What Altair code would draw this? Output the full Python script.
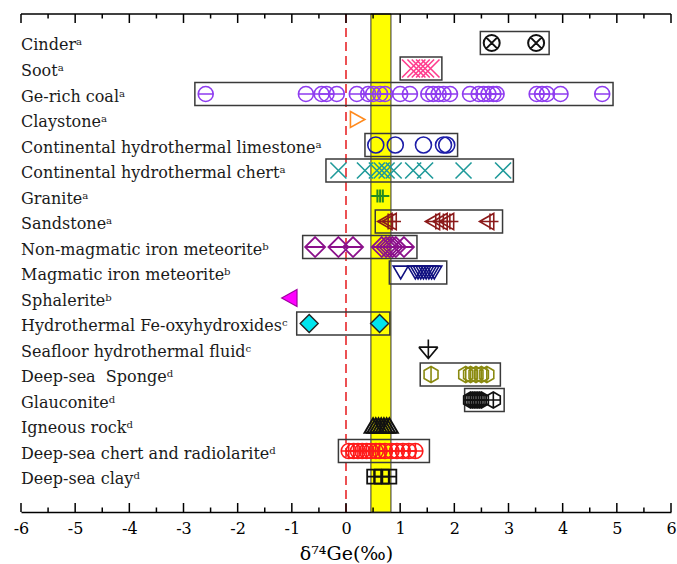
import altair as alt
import pandas as pd

# ---------------- data ----------------
labels = [
    "Cinderᵃ", "Sootᵃ", "Ge-rich coalᵃ", "Claystoneᵃ",
    "Continental hydrothermal limestoneᵃ", "Continental hydrothermal chertᵃ",
    "Graniteᵃ", "Sandstoneᵃ", "Non-magmatic iron meteoriteᵇ",
    "Magmatic iron meteoriteᵇ", "Sphaleriteᵇ", "Hydrothermal Fe-oxyhydroxidesᶜ",
    "Seafloor hydrothermal fluidᶜ", "Deep-sea\u00a0 Spongeᵈ", "Glauconiteᵈ",
    "Igneous rockᵈ", "Deep-sea chert and radiolariteᵈ", "Deep-sea clayᵈ",
]

cinder = [2.69, 3.51]
soot = [1.2, 1.3, 1.38, 1.46, 1.56]
coal = [-2.59, -0.74, -0.45, -0.36, -0.17, 0.2, 0.41, 0.50, 0.63, 0.72, 1.0, 1.18,
        1.52, 1.61, 1.71, 1.80, 1.92, 2.29, 2.45, 2.54, 2.63, 2.72, 2.78,
        3.52, 3.62, 3.71, 3.96, 4.73]
claystone = [0.2]
limestone = [0.55, 0.91, 1.43, 1.8, 1.86]
cont_chert = [-0.14, 0.35, 0.57, 0.66, 0.75, 0.88, 1.24, 1.46, 2.17, 2.9]
granite = [0.58, 0.63, 0.68]
sandstone = [0.76, 0.84, 1.64, 1.78, 1.9, 2.64]
nonmag = [-0.57, -0.14, 0.13, 0.66, 0.74, 0.8, 0.86, 0.92, 1.07]
magmatic = [1.01, 1.28, 1.33, 1.38, 1.43, 1.48, 1.53, 1.58, 1.63]
sphalerite = [-1.03]
feoxy = [-0.68, 0.62]
seafloor = [1.52]
sponge = [1.57, 2.21, 2.3, 2.4, 2.5, 2.6]
glauconite = [2.3, 2.34, 2.38, 2.42, 2.46, 2.5, 2.72]
igneous = [0.5, 0.55, 0.6, 0.65, 0.7, 0.75, 0.8]
ds_chert = [0.05, 0.14, 0.22, 0.3, 0.38, 0.46, 0.55, 0.62, 0.72, 0.84, 0.94, 1.05, 1.16, 1.28]
ds_clay = [0.52, 0.66, 0.8]

series = [cinder, soot, coal, claystone, limestone, cont_chert, granite, sandstone,
          nonmag, magmatic, sphalerite, feoxy, seafloor, sponge, glauconite,
          igneous, ds_chert, ds_clay]

# range boxes: (row, low, high)
box_rows = [0, 1, 2, 4, 5, 7, 8, 9, 11, 13, 14, 16]
box_lo = [2.48, 1.0, -2.79, 0.35, -0.37, 0.54, -0.80, 0.80, -0.91, 1.37, 2.19, -0.14]
box_hi = [3.75, 1.77, 4.93, 2.06, 3.09, 2.89, 1.31, 1.86, 0.81, 2.85, 2.92, 1.54]

band = [0.46, 0.83]
major_ticks = list(range(-6, 7))
minor_ticks = [-5.5, -4.5, -3.5, -2.5, -1.5, -0.5, 0.5, 1.5, 2.5, 3.5, 4.5, 5.5]

# ---------------- styles ----------------
CIRC = "M-1,0A1,1,0,1,1,1,0A1,1,0,1,1,-1,0Z"
HEX = "M0,-1L0.87,-0.5L0.87,0.5L0,1L-0.87,0.5L-0.87,-0.5Z"
styles = [
    # shape, stroke, fill, size(px), strokeWidth
    (CIRC + "M-0.7,-0.7L0.7,0.7M-0.7,0.7L0.7,-0.7", "#111111", "transparent", 16, 2),
    ("M-1,-1L1,1M-1,1L1,-1", "#ff3d8e", "transparent", 18, 1.6),
    (CIRC + "M-1,0L1,0", "#8f3cf0", "transparent", 15, 1.6),
    ("M-0.8,-1L1,0L-0.8,1Z", "#ff8a1e", "transparent", 16, 1.6),
    ("circle", "#1c1ca8", "transparent", 16, 1.6),
    ("M-1,-1L1,1M-1,1L1,-1", "#1f9a9a", "transparent", 16, 1.6),
    ("M-1,0L1,0M0,-1L0,1", "#228b22", "transparent", 13, 2),
    ("M-1,0L0.5,-0.85L0.5,0.85ZM0.1,-0.85L0.1,0.85M-1,0L1,0", "#8b1a1a", "transparent", 19, 1.6),
    ("M0,-1L1,0L0,1L-1,0ZM-1,0L1,0", "#8b108b", "transparent", 20, 1.8),
    ("M-1,-0.85L1,-0.85L0,0.85Z", "#101080", "transparent", 15, 1.6),
    ("M0.8,-1L-1,0L0.8,1Z", "#a000a0", "#ff00ff", 17, 1.2),
    ("M0,-1L1,0L0,1L-1,0Z", "#222222", "#00e5ee", 18, 1.4),
    ("M-1,-0.2L1,-0.2M-1,-0.2L0,1L1,-0.2M0,-1L0,1", "#111111", "transparent", 19, 1.6),
    (HEX + "M0,-1L0,1", "#8a8a10", "transparent", 16, 1.6),
    (HEX + "M0,-1L0,1M-0.87,0L0.87,0", "#111111", "transparent", 16, 1.6),
    ("M-1,0.85L1,0.85L0,-0.85Z", "#111111", "transparent", 17, 2),
    (CIRC + "M-1,0L1,0M0,-1L0,1", "#ff1a1a", "transparent", 15, 1.6),
    ("M-1,-1L1,-1L1,1L-1,1ZM0,-1L0,1M-1,0L1,0", "#111111", "transparent", 14, 1.8),
]

rows = []
for i, (vals, st) in enumerate(zip(series, styles)):
    for v in vals:
        rows.append({"x": v, "row": i, "shape": st[0], "stroke": st[1],
                     "fill": st[2], "size": st[3] ** 2, "sw": st[4]})
pts = pd.DataFrame(rows)

boxes = pd.DataFrame({"row": box_rows, "lo": box_lo, "hi": box_hi})
boxes["y1"] = boxes["row"] - 0.45
boxes["y2"] = boxes["row"] + 0.45

lab = pd.DataFrame({"label": labels, "row": list(range(len(labels)))})

H = 498
xscale = alt.Scale(domain=[-6, 6], nice=False, zero=False)
yscale = alt.Scale(domain=[-1.137, 18.39], reverse=True, nice=False, zero=False)
xaxis = alt.Axis(values=major_ticks, ticks=False, domain=True, domainColor="black",
                 domainWidth=1.5, grid=False, labelFont="DejaVu Serif",
                 labelFontSize=16, labelColor="black", labelPadding=8,
                 labelExpr="'' + datum.value", labelFlush=False,
                 title="δ⁷⁴Ge(‰)", titleFont="DejaVu Serif", titleFontSize=19,
                 titleFontWeight="normal", titleColor="black", titlePadding=8)

base = alt.Chart()

band_layer = alt.Chart(pd.DataFrame({"a": [band[0]], "b": [band[1]]})).mark_rect(
    fill="#ffff00", stroke="#333333", strokeWidth=1
).encode(x=alt.X("a:Q", scale=xscale, axis=xaxis), x2="b:Q",
         y=alt.value(0), y2=alt.value(H))

zero_line = alt.Chart(pd.DataFrame({"z": [0]})).mark_rule(
    color="#e8262a", strokeWidth=1.6, strokeDash=[9, 5]
).encode(x=alt.X("z:Q", scale=xscale, axis=xaxis), y=alt.value(0), y2=alt.value(H))

box_layer = alt.Chart(boxes).mark_rect(
    fill="transparent", stroke="#3a3a3a", strokeWidth=1.5
).encode(x=alt.X("lo:Q", scale=xscale, axis=xaxis), x2="hi:Q",
         y=alt.Y("y1:Q", scale=yscale, axis=None), y2="y2:Q")

pt_layer = alt.Chart(pts).mark_point(filled=False, opacity=1).encode(
    x=alt.X("x:Q", scale=xscale, axis=xaxis),
    y=alt.Y("row:Q", scale=yscale, axis=None),
    shape=alt.Shape("shape:N", scale=None),
    stroke=alt.Stroke("stroke:N", scale=None),
    fill=alt.Fill("fill:N", scale=None),
    size=alt.Size("size:Q", scale=None),
    strokeWidth=alt.StrokeWidth("sw:Q", scale=None),
)

text_layer = alt.Chart(lab).mark_text(
    align="left", baseline="alphabetic", dy=7.5, font="DejaVu Serif",
    fontSize=16, color="#1a1a1a"
).encode(x=alt.value(0), y=alt.Y("row:Q", scale=yscale, axis=None), text="label:N")

tdf_major = pd.DataFrame({"t": major_ticks})
tdf_minor = pd.DataFrame({"t": minor_ticks})

def ticks(df, y1, y2):
    return alt.Chart(df).mark_rule(color="black", strokeWidth=1.5).encode(
        x=alt.X("t:Q", scale=xscale, axis=xaxis), y=alt.value(y1), y2=alt.value(y2))

top_line = alt.Chart(pd.DataFrame({"a": [-6], "b": [6]})).mark_rule(
    color="black", strokeWidth=1.5
).encode(x=alt.X("a:Q", scale=xscale, axis=xaxis), x2="b:Q", y=alt.value(0))

chart = alt.layer(
    band_layer, zero_line, box_layer, pt_layer, text_layer,
    ticks(tdf_major, H, H - 9), ticks(tdf_minor, H, H - 4.5),
    ticks(tdf_major, 0, 9), ticks(tdf_minor, 0, 4.5), top_line,
).properties(
    width=650, height=H,
    autosize=alt.AutoSizeParams(type="none"),
    padding={"left": 21, "top": 14, "right": 6, "bottom": 52},
    background="white",
).configure_view(stroke=None)

chart.save("out.html", embed_options={"renderer": "svg", "actions": False})
